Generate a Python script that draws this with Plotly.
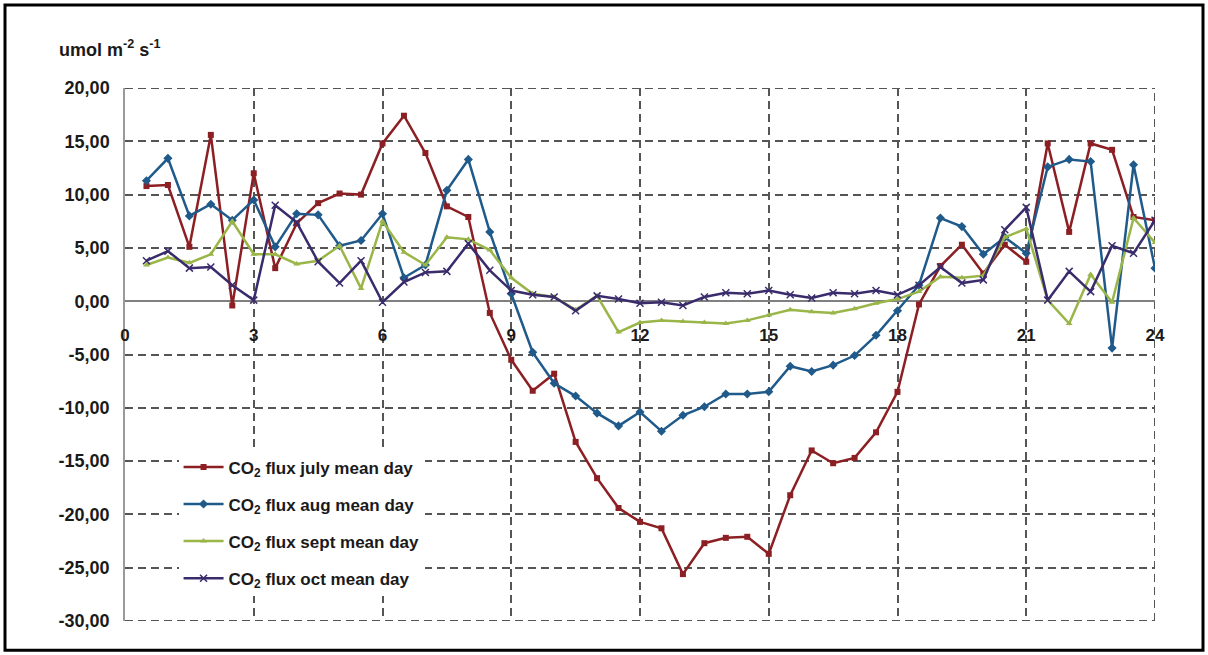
import plotly.graph_objects as go

# Half-hourly time of day (h)
hours = [0.5, 1.0, 1.5, 2.0, 2.5, 3.0, 3.5, 4.0, 4.5, 5.0, 5.5, 6.0,
         6.5, 7.0, 7.5, 8.0, 8.5, 9.0, 9.5, 10.0, 10.5, 11.0, 11.5, 12.0,
         12.5, 13.0, 13.5, 14.0, 14.5, 15.0, 15.5, 16.0, 16.5, 17.0, 17.5, 18.0,
         18.5, 19.0, 19.5, 20.0, 20.5, 21.0, 21.5, 22.0, 22.5, 23.0, 23.5, 24.0]

# Mean-day CO2 flux per month (umol m-2 s-1)
flux_july = [10.8, 10.9, 5.1, 15.6, -0.4, 12.0, 3.1, 7.3, 9.2, 10.1, 10.0, 14.8,
             17.4, 13.9, 8.9, 7.9, -1.1, -5.5, -8.4, -6.8, -13.2, -16.6, -19.4, -20.7,
             -21.3, -25.6, -22.7, -22.2, -22.1, -23.7, -18.2, -14.0, -15.2, -14.7, -12.3, -8.5,
             -0.3, 3.3, 5.3, 2.6, 5.3, 3.7, 14.8, 6.5, 14.8, 14.2, 7.9, 7.6]
flux_aug = [11.3, 13.4, 8.0, 9.1, 7.6, 9.5, 5.1, 8.2, 8.1, 5.2, 5.7, 8.2,
            2.2, 3.4, 10.4, 13.3, 6.5, 0.7, -4.8, -7.7, -8.9, -10.5, -11.7, -10.4,
            -12.2, -10.7, -9.9, -8.7, -8.7, -8.5, -6.1, -6.6, -6.0, -5.1, -3.2, -0.9,
            1.5, 7.8, 7.0, 4.4, 6.0, 4.5, 12.6, 13.3, 13.1, -4.4, 12.8, 3.1]
flux_sept = [3.4, 4.1, 3.6, 4.4, 7.5, 4.4, 4.4, 3.5, 3.8, 5.2, 1.2, 7.5,
             4.6, 3.4, 6.0, 5.8, 4.8, 2.2, 0.7, 0.4, -0.8, 0.5, -2.9, -2.0,
             -1.8, -1.9, -2.0, -2.1, -1.8, -1.3, -0.8, -1.0, -1.1, -0.7, -0.2, 0.2,
             0.9, 2.3, 2.2, 2.4, 6.0, 6.8, 0.1, -2.1, 2.5, -0.1, 7.8, 5.5]
flux_oct = [3.8, 4.7, 3.1, 3.2, 1.5, 0.1, 9.0, 7.4, 3.7, 1.7, 3.8, -0.1,
            1.8, 2.7, 2.8, 5.4, 2.9, 1.0, 0.6, 0.4, -0.9, 0.5, 0.2, -0.2,
            -0.1, -0.4, 0.4, 0.8, 0.7, 1.0, 0.6, 0.3, 0.8, 0.7, 1.0, 0.6,
            1.5, 3.2, 1.7, 2.0, 6.7, 8.8, 0.1, 2.8, 0.9, 5.2, 4.5, 7.6]

series_names = ["CO<sub>2</sub> flux july mean day",
                "CO<sub>2</sub> flux aug mean day",
                "CO<sub>2</sub> flux sept mean day",
                "CO<sub>2</sub> flux oct mean day"]

x_ticks = [0, 3, 6, 9, 12, 15, 18, 21, 24]
x_tick_text = ["0", "3", "6", "9", "12", "15", "18", "21", "24"]
y_ticks = [20, 15, 10, 5, 0, -5, -10, -15, -20, -25, -30]
y_tick_text = ["20,00", "15,00", "10,00", "5,00", "0,00", "-5,00",
               "-10,00", "-15,00", "-20,00", "-25,00", "-30,00"]

X_RANGE = [x_ticks[0], x_ticks[-1]]
Y_RANGE = [y_ticks[-1], y_ticks[0]]

FONT = "Liberation Sans, Arial, sans-serif"
GRID = "#555555"
DASH = "8px,5px"

styles = [
    dict(color="#8c1f23", symbol="square", size=6),
    dict(color="#1f5a8a", symbol="diamond", size=7),
    dict(color="#9ab548", symbol="triangle-up", size=6),
    dict(color="#3a2c6c", symbol="x-thin-open", size=7),
]
data = [flux_july, flux_aug, flux_sept, flux_oct]

fig = go.Figure()
for i, (name, ys, st) in enumerate(zip(series_names, data, styles)):
    marker = dict(symbol=st["symbol"], size=st["size"], color=st["color"])
    if st["symbol"].startswith("x-thin"):
        marker["line"] = dict(color="#8a80c0", width=1.5)
    fig.add_trace(go.Scatter(
        x=hours, y=ys, name=name, mode="lines+markers",
        line=dict(color=st["color"], width=2.5),
        marker=marker, legendgroup=f"g{i}",
    ))

# dashed grid lines on the outer edges of the plot area
edge_lines = [
    dict(type="line", xref="x", yref="y", x0=X_RANGE[0], x1=X_RANGE[1],
         y0=Y_RANGE[1], y1=Y_RANGE[1]),
    dict(type="line", xref="x", yref="y", x0=X_RANGE[0], x1=X_RANGE[1],
         y0=Y_RANGE[0], y1=Y_RANGE[0]),
    dict(type="line", xref="x", yref="y", x0=X_RANGE[1], x1=X_RANGE[1],
         y0=Y_RANGE[0], y1=Y_RANGE[1]),
]
for s in edge_lines:
    s["line"] = dict(color=GRID, width=2, dash=DASH)
    s["layer"] = "below"

frame = dict(
    type="rect", xref="paper", yref="paper",
    x0=-0.1165, x1=1.0466, y0=-0.055, y1=1.1557,
    line=dict(color="black", width=3), fillcolor="rgba(0,0,0,0)", layer="above",
)

fig.update_layout(
    width=1208, height=655,
    margin=dict(l=125, r=53, t=88, b=34),
    paper_bgcolor="white", plot_bgcolor="white",
    font=dict(family=FONT, size=16, color="#1a1a1a", weight="bold"),
    showlegend=True,
    legend=dict(
        x=0.052, y=0.322, xanchor="left", yanchor="top",
        bgcolor="white", borderwidth=0,
        font=dict(family=FONT, size=17, color="#1a1a1a", weight="bold"),
        tracegroupgap=12, itemwidth=40,
    ),
    xaxis=dict(
        range=X_RANGE, tickvals=x_ticks, ticktext=x_tick_text,
        showgrid=True, gridcolor=GRID, gridwidth=2, griddash=DASH,
        zeroline=False, showline=False,
        anchor="free", position=0.6, ticks="", ticklabelstandoff=22,
        tickfont=dict(family=FONT, size=17, color="#1a1a1a", weight="bold"),
    ),
    yaxis=dict(
        range=Y_RANGE, tickvals=y_ticks, ticktext=y_tick_text,
        showgrid=True, gridcolor=GRID, gridwidth=2, griddash=DASH,
        zeroline=True, zerolinecolor="#808080", zerolinewidth=1.5,
        showline=True, linecolor="#9a9a9a", linewidth=1.5,
        ticks="", ticklabelstandoff=10,
        tickfont=dict(family=FONT, size=18, color="#1a1a1a", weight="bold"),
    ),
    annotations=[dict(
        text="umol m<sup>-2</sup> s<sup>-1</sup>", xref="paper", yref="paper",
        x=-0.066, y=1.075, xanchor="left", yanchor="middle", showarrow=False,
        font=dict(family=FONT, size=18, color="#1a1a1a", weight="bold"),
    )],
    shapes=edge_lines + [frame],
)

fig.write_html("out.html")
